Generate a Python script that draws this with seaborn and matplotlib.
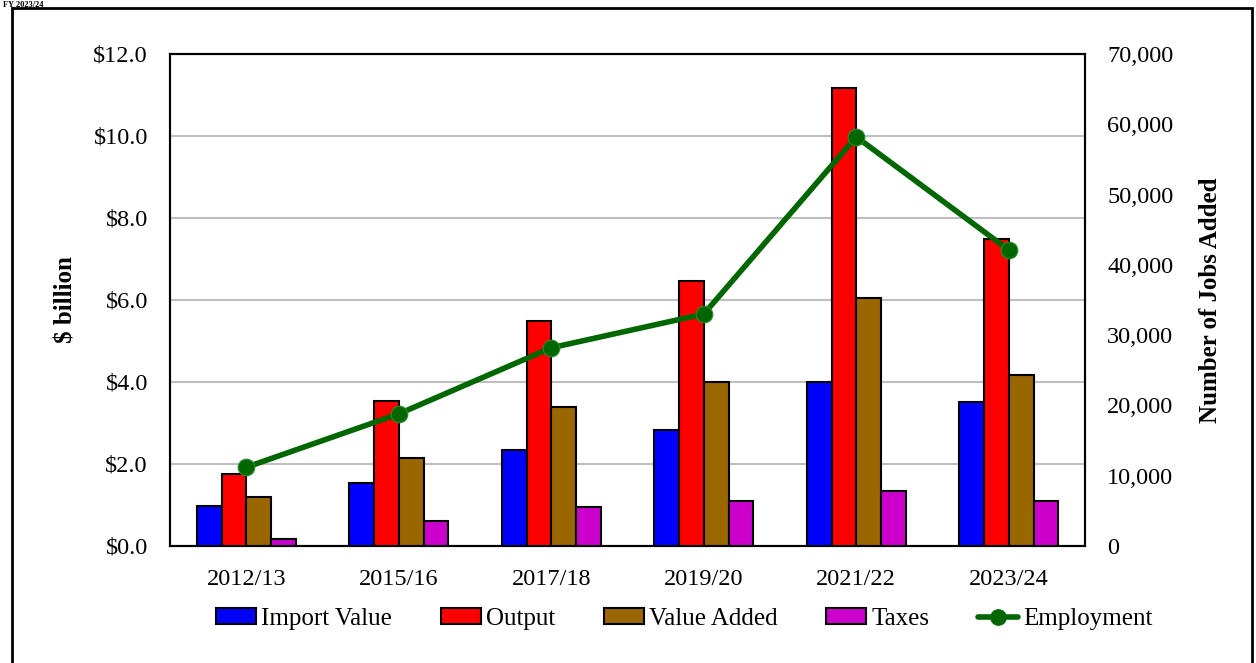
import numpy as np
import pandas as pd
import matplotlib
matplotlib.use("Agg")
import matplotlib.pyplot as plt
import seaborn as sns
from matplotlib.patches import Patch, Rectangle
from matplotlib.lines import Line2D

# values
years = ["2012/13", "2015/16", "2017/18", "2019/20", "2021/22", "2023/24"]
import_value = [0.98, 1.53, 2.34, 2.83, 4.00, 3.51]
output = [1.76, 3.54, 5.49, 6.46, 11.17, 7.49]
value_added = [1.20, 2.15, 3.39, 4.00, 6.05, 4.17]
taxes = [0.17, 0.60, 0.95, 1.10, 1.34, 1.10]
employment = [11200, 18800, 28200, 33000, 58200, 42100]

series = ["Import Value", "Output", "Value Added", "Taxes"]
colors = ["#0000FF", "#FF0000", "#996600", "#CC00CC"]
green = "#006600"

df = pd.DataFrame({"Year": years, "Import Value": import_value, "Output": output,
                   "Value Added": value_added, "Taxes": taxes})
long_df = df.melt(id_vars="Year", value_vars=series, var_name="Series", value_name="Value")

sns.set_theme(style="white")
plt.rcParams["font.family"] = ["Liberation Serif", "DejaVu Serif"]
plt.rcParams["text.color"] = "black"
plt.rcParams["axes.labelcolor"] = "black"

fig = plt.figure(figsize=(12.56, 6.63), dpi=100)
ax = fig.add_axes([0.1354, 0.1765, 0.8639 - 0.1354, 0.9186 - 0.1765])

sns.barplot(data=long_df, x="Year", y="Value", hue="Series", hue_order=series,
            palette=colors, width=0.65, gap=0, edgecolor="black", linewidth=1.5,
            saturation=1, ax=ax, legend=False, zorder=3)

ax.set_ylim(0, 12)
ax.set_yticks(np.arange(0, 12.1, 2))
ax.set_yticklabels([f"${v:.1f}" for v in np.arange(0, 12.1, 2)])
ax.set_xlim(-0.5, len(years) - 0.5)
ax.yaxis.grid(True, color="#BFBFBF", linewidth=1.5, zorder=0)
ax.set_axisbelow(True)
ax.set_xlabel("")
ax.set_ylabel("$ billion", fontsize=18, fontweight="bold", labelpad=11)
ax.tick_params(axis="both", length=0, labelsize=17.5, colors="black")
ax.tick_params(axis="y", pad=16)
ax.tick_params(axis="x", pad=16.5)
for sp in ax.spines.values():
    sp.set_color("black")
    sp.set_linewidth(1.5)

ax2 = ax.twinx()
sns.lineplot(x=np.arange(len(years)), y=employment, ax=ax2, color=green,
             linewidth=4, marker="o", markersize=12, markeredgecolor="#2E8B2E",
             markeredgewidth=0.8, zorder=5)
ax2.set_ylim(0, 70000)
ax2.set_yticks(np.arange(0, 70001, 10000))
ax2.set_yticklabels([f"{v:,}" for v in range(0, 70001, 10000)])
ax2.set_ylabel("Number of Jobs Added", fontsize=18, fontweight="bold", labelpad=18)
ax2.tick_params(axis="y", length=0, labelsize=17.5, colors="black", pad=16)
ax2.grid(False)
for sp in ax2.spines.values():
    sp.set_color("black")
    sp.set_linewidth(1.5)

handles = [Patch(facecolor=c, edgecolor="black", linewidth=1.5) for c in colors]
handles.append(Line2D([0], [0], color=green, linewidth=4, marker="o", markersize=11))
fig.legend(handles, series + ["Employment"], loc="center", bbox_to_anchor=(0.545, 0.066),
           ncol=5, frameon=False, fontsize=18, handlelength=1.6, handleheight=0.6,
           handletextpad=0.2, columnspacing=1.95, labelcolor="black")

# outer frame of the exhibit
fig.patches.append(Rectangle((12 / 1256, -0.01), 1240 / 1256, 1 - 8 / 663 + 0.01,
                             transform=fig.transFigure, fill=False,
                             edgecolor="black", linewidth=2))
fig.text(0.002, 0.999, "FY 2023/24", fontsize=6, fontweight="bold", va="top", ha="left")

fig.savefig("out.png", dpi=100)
